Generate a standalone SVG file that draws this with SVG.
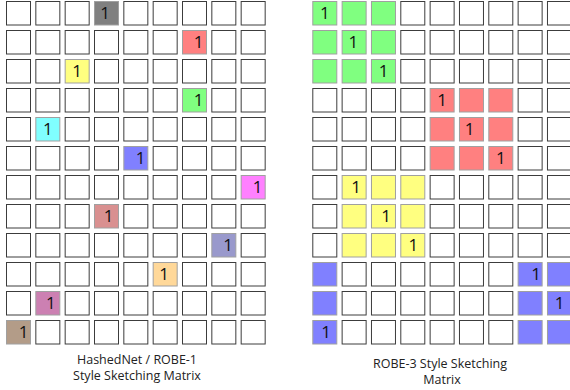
<svg xmlns="http://www.w3.org/2000/svg" xmlns:xlink="http://www.w3.org/1999/xlink" width="570" height="390" viewBox="0 0 570 390">
<style>
.w{fill:#fff;stroke:#3c3c3c;stroke-width:1}
.k{stroke:#a0a0a0;stroke-width:1}
.one{font-family:"Open Sans","DejaVu Sans",sans-serif;font-size:17px;fill:#111;text-anchor:middle}
.lab{font-family:"Open Sans","DejaVu Sans",sans-serif;font-size:12.5px;fill:#222;text-anchor:middle}
</style>
<defs><rect id="c" width="24" height="23.5"/></defs>
<rect width="570" height="390" fill="#fff"/>
<g id="left-grid">
<g id="left-empty">
<use href="#c" class="w" x="6.5" y="1.5"/><use href="#c" class="w" x="35.83" y="1.5"/><use href="#c" class="w" x="65.17" y="1.5"/><use href="#c" class="w" x="123.83" y="1.5"/><use href="#c" class="w" x="153.17" y="1.5"/><use href="#c" class="w" x="182.5" y="1.5"/><use href="#c" class="w" x="211.83" y="1.5"/><use href="#c" class="w" x="241.17" y="1.5"/>
<use href="#c" class="w" x="6.5" y="30.5"/><use href="#c" class="w" x="35.83" y="30.5"/><use href="#c" class="w" x="65.17" y="30.5"/><use href="#c" class="w" x="94.5" y="30.5"/><use href="#c" class="w" x="123.83" y="30.5"/><use href="#c" class="w" x="153.17" y="30.5"/><use href="#c" class="w" x="211.83" y="30.5"/><use href="#c" class="w" x="241.17" y="30.5"/>
<use href="#c" class="w" x="6.5" y="59.5"/><use href="#c" class="w" x="35.83" y="59.5"/><use href="#c" class="w" x="94.5" y="59.5"/><use href="#c" class="w" x="123.83" y="59.5"/><use href="#c" class="w" x="153.17" y="59.5"/><use href="#c" class="w" x="182.5" y="59.5"/><use href="#c" class="w" x="211.83" y="59.5"/><use href="#c" class="w" x="241.17" y="59.5"/>
<use href="#c" class="w" x="6.5" y="88.5"/><use href="#c" class="w" x="35.83" y="88.5"/><use href="#c" class="w" x="65.17" y="88.5"/><use href="#c" class="w" x="94.5" y="88.5"/><use href="#c" class="w" x="123.83" y="88.5"/><use href="#c" class="w" x="153.17" y="88.5"/><use href="#c" class="w" x="211.83" y="88.5"/><use href="#c" class="w" x="241.17" y="88.5"/>
<use href="#c" class="w" x="6.5" y="117.5"/><use href="#c" class="w" x="65.17" y="117.5"/><use href="#c" class="w" x="94.5" y="117.5"/><use href="#c" class="w" x="123.83" y="117.5"/><use href="#c" class="w" x="153.17" y="117.5"/><use href="#c" class="w" x="182.5" y="117.5"/><use href="#c" class="w" x="211.83" y="117.5"/><use href="#c" class="w" x="241.17" y="117.5"/>
<use href="#c" class="w" x="6.5" y="146.5"/><use href="#c" class="w" x="35.83" y="146.5"/><use href="#c" class="w" x="65.17" y="146.5"/><use href="#c" class="w" x="94.5" y="146.5"/><use href="#c" class="w" x="153.17" y="146.5"/><use href="#c" class="w" x="182.5" y="146.5"/><use href="#c" class="w" x="211.83" y="146.5"/><use href="#c" class="w" x="241.17" y="146.5"/>
<use href="#c" class="w" x="6.5" y="175.5"/><use href="#c" class="w" x="35.83" y="175.5"/><use href="#c" class="w" x="65.17" y="175.5"/><use href="#c" class="w" x="94.5" y="175.5"/><use href="#c" class="w" x="123.83" y="175.5"/><use href="#c" class="w" x="153.17" y="175.5"/><use href="#c" class="w" x="182.5" y="175.5"/><use href="#c" class="w" x="211.83" y="175.5"/>
<use href="#c" class="w" x="6.5" y="204.5"/><use href="#c" class="w" x="35.83" y="204.5"/><use href="#c" class="w" x="65.17" y="204.5"/><use href="#c" class="w" x="123.83" y="204.5"/><use href="#c" class="w" x="153.17" y="204.5"/><use href="#c" class="w" x="182.5" y="204.5"/><use href="#c" class="w" x="211.83" y="204.5"/><use href="#c" class="w" x="241.17" y="204.5"/>
<use href="#c" class="w" x="6.5" y="233.5"/><use href="#c" class="w" x="35.83" y="233.5"/><use href="#c" class="w" x="65.17" y="233.5"/><use href="#c" class="w" x="94.5" y="233.5"/><use href="#c" class="w" x="123.83" y="233.5"/><use href="#c" class="w" x="153.17" y="233.5"/><use href="#c" class="w" x="182.5" y="233.5"/><use href="#c" class="w" x="241.17" y="233.5"/>
<use href="#c" class="w" x="6.5" y="262.5"/><use href="#c" class="w" x="35.83" y="262.5"/><use href="#c" class="w" x="65.17" y="262.5"/><use href="#c" class="w" x="94.5" y="262.5"/><use href="#c" class="w" x="123.83" y="262.5"/><use href="#c" class="w" x="182.5" y="262.5"/><use href="#c" class="w" x="211.83" y="262.5"/><use href="#c" class="w" x="241.17" y="262.5"/>
<use href="#c" class="w" x="6.5" y="291.5"/><use href="#c" class="w" x="65.17" y="291.5"/><use href="#c" class="w" x="94.5" y="291.5"/><use href="#c" class="w" x="123.83" y="291.5"/><use href="#c" class="w" x="153.17" y="291.5"/><use href="#c" class="w" x="182.5" y="291.5"/><use href="#c" class="w" x="211.83" y="291.5"/><use href="#c" class="w" x="241.17" y="291.5"/>
<use href="#c" class="w" x="35.83" y="320.5"/><use href="#c" class="w" x="65.17" y="320.5"/><use href="#c" class="w" x="94.5" y="320.5"/><use href="#c" class="w" x="123.83" y="320.5"/><use href="#c" class="w" x="153.17" y="320.5"/><use href="#c" class="w" x="182.5" y="320.5"/><use href="#c" class="w" x="211.83" y="320.5"/><use href="#c" class="w" x="241.17" y="320.5"/>
</g>
<g id="l-r0"><use href="#c" class="k" x="94.5" y="1.5" fill="#808080"/><text class="one" x="105" y="19">1</text></g>
<g id="l-r1"><use href="#c" class="k" x="182.5" y="30.5" fill="#ff8080"/><text class="one" x="198.5" y="48">1</text></g>
<g id="l-r2"><use href="#c" class="k" x="65.17" y="59.5" fill="#ffff80"/><text class="one" x="77.2" y="77">1</text></g>
<g id="l-r3"><use href="#c" class="k" x="182.5" y="88.5" fill="#80ff80"/><text class="one" x="198.5" y="106">1</text></g>
<g id="l-r4"><use href="#c" class="k" x="35.83" y="117.5" fill="#80ffff"/><text class="one" x="47.8" y="135">1</text></g>
<g id="l-r5"><use href="#c" class="k" x="123.83" y="146.5" fill="#8080ff"/><text class="one" x="140.7" y="164">1</text></g>
<g id="l-r6"><use href="#c" class="k" x="241.17" y="175.5" fill="#ff80ff"/><text class="one" x="257.5" y="193">1</text></g>
<g id="l-r7"><use href="#c" class="k" x="94.5" y="204.5" fill="#d99090"/><text class="one" x="108.5" y="222">1</text></g>
<g id="l-r8"><use href="#c" class="k" x="211.83" y="233.5" fill="#9999cc"/><text class="one" x="228" y="251">1</text></g>
<g id="l-r9"><use href="#c" class="k" x="153.17" y="262.5" fill="#ffd899"/><text class="one" x="164" y="280">1</text></g>
<g id="l-r10"><use href="#c" class="k" x="35.83" y="291.5" fill="#cc80b2"/><text class="one" x="50.8" y="309">1</text></g>
<g id="l-r11"><use href="#c" class="k" x="6.5" y="320.5" fill="#b39c88"/><text class="one" x="23.5" y="338">1</text></g>
<g id="left-label"><text class="lab" x="137" y="364">HashedNet / ROBE-1</text><text class="lab" x="137" y="380">Style Sketching Matrix</text></g>
</g>
<g id="right-grid">
<g id="right-empty">
<use href="#c" class="w" x="400.8" y="1.5"/><use href="#c" class="w" x="430.13" y="1.5"/><use href="#c" class="w" x="459.47" y="1.5"/><use href="#c" class="w" x="488.8" y="1.5"/><use href="#c" class="w" x="518.13" y="1.5"/><use href="#c" class="w" x="547.47" y="1.5"/>
<use href="#c" class="w" x="400.8" y="30.5"/><use href="#c" class="w" x="430.13" y="30.5"/><use href="#c" class="w" x="459.47" y="30.5"/><use href="#c" class="w" x="488.8" y="30.5"/><use href="#c" class="w" x="518.13" y="30.5"/><use href="#c" class="w" x="547.47" y="30.5"/>
<use href="#c" class="w" x="400.8" y="59.5"/><use href="#c" class="w" x="430.13" y="59.5"/><use href="#c" class="w" x="459.47" y="59.5"/><use href="#c" class="w" x="488.8" y="59.5"/><use href="#c" class="w" x="518.13" y="59.5"/><use href="#c" class="w" x="547.47" y="59.5"/>
<use href="#c" class="w" x="312.8" y="88.5"/><use href="#c" class="w" x="342.13" y="88.5"/><use href="#c" class="w" x="371.47" y="88.5"/><use href="#c" class="w" x="400.8" y="88.5"/><use href="#c" class="w" x="518.13" y="88.5"/><use href="#c" class="w" x="547.47" y="88.5"/>
<use href="#c" class="w" x="312.8" y="117.5"/><use href="#c" class="w" x="342.13" y="117.5"/><use href="#c" class="w" x="371.47" y="117.5"/><use href="#c" class="w" x="400.8" y="117.5"/><use href="#c" class="w" x="518.13" y="117.5"/><use href="#c" class="w" x="547.47" y="117.5"/>
<use href="#c" class="w" x="312.8" y="146.5"/><use href="#c" class="w" x="342.13" y="146.5"/><use href="#c" class="w" x="371.47" y="146.5"/><use href="#c" class="w" x="400.8" y="146.5"/><use href="#c" class="w" x="518.13" y="146.5"/><use href="#c" class="w" x="547.47" y="146.5"/>
<use href="#c" class="w" x="312.8" y="175.5"/><use href="#c" class="w" x="430.13" y="175.5"/><use href="#c" class="w" x="459.47" y="175.5"/><use href="#c" class="w" x="488.8" y="175.5"/><use href="#c" class="w" x="518.13" y="175.5"/><use href="#c" class="w" x="547.47" y="175.5"/>
<use href="#c" class="w" x="312.8" y="204.5"/><use href="#c" class="w" x="430.13" y="204.5"/><use href="#c" class="w" x="459.47" y="204.5"/><use href="#c" class="w" x="488.8" y="204.5"/><use href="#c" class="w" x="518.13" y="204.5"/><use href="#c" class="w" x="547.47" y="204.5"/>
<use href="#c" class="w" x="312.8" y="233.5"/><use href="#c" class="w" x="430.13" y="233.5"/><use href="#c" class="w" x="459.47" y="233.5"/><use href="#c" class="w" x="488.8" y="233.5"/><use href="#c" class="w" x="518.13" y="233.5"/><use href="#c" class="w" x="547.47" y="233.5"/>
<use href="#c" class="w" x="342.13" y="262.5"/><use href="#c" class="w" x="371.47" y="262.5"/><use href="#c" class="w" x="400.8" y="262.5"/><use href="#c" class="w" x="430.13" y="262.5"/><use href="#c" class="w" x="459.47" y="262.5"/><use href="#c" class="w" x="488.8" y="262.5"/>
<use href="#c" class="w" x="342.13" y="291.5"/><use href="#c" class="w" x="371.47" y="291.5"/><use href="#c" class="w" x="400.8" y="291.5"/><use href="#c" class="w" x="430.13" y="291.5"/><use href="#c" class="w" x="459.47" y="291.5"/><use href="#c" class="w" x="488.8" y="291.5"/>
<use href="#c" class="w" x="342.13" y="320.5"/><use href="#c" class="w" x="371.47" y="320.5"/><use href="#c" class="w" x="400.8" y="320.5"/><use href="#c" class="w" x="430.13" y="320.5"/><use href="#c" class="w" x="459.47" y="320.5"/><use href="#c" class="w" x="488.8" y="320.5"/>
</g>
<g id="r-green" fill="#80ff80">
<use href="#c" class="k" x="312.8" y="1.5"/><use href="#c" class="k" x="342.13" y="1.5"/><use href="#c" class="k" x="371.47" y="1.5"/>
<use href="#c" class="k" x="312.8" y="30.5"/><use href="#c" class="k" x="342.13" y="30.5"/><use href="#c" class="k" x="371.47" y="30.5"/>
<use href="#c" class="k" x="312.8" y="59.5"/><use href="#c" class="k" x="342.13" y="59.5"/><use href="#c" class="k" x="371.47" y="59.5"/>
<text class="one" x="324.8" y="19">1</text><text class="one" x="353.3" y="48">1</text><text class="one" x="383.5" y="77">1</text>
</g>
<g id="r-red" fill="#ff8080">
<use href="#c" class="k" x="430.13" y="88.5"/><use href="#c" class="k" x="459.47" y="88.5"/><use href="#c" class="k" x="488.8" y="88.5"/>
<use href="#c" class="k" x="430.13" y="117.5"/><use href="#c" class="k" x="459.47" y="117.5"/><use href="#c" class="k" x="488.8" y="117.5"/>
<use href="#c" class="k" x="430.13" y="146.5"/><use href="#c" class="k" x="459.47" y="146.5"/><use href="#c" class="k" x="488.8" y="146.5"/>
<text class="one" x="442" y="106">1</text><text class="one" x="469.5" y="135">1</text><text class="one" x="500.8" y="164">1</text>
</g>
<g id="r-yellow" fill="#ffff80">
<use href="#c" class="k" x="342.13" y="175.5"/><use href="#c" class="k" x="371.47" y="175.5"/><use href="#c" class="k" x="400.8" y="175.5"/>
<use href="#c" class="k" x="342.13" y="204.5"/><use href="#c" class="k" x="371.47" y="204.5"/><use href="#c" class="k" x="400.8" y="204.5"/>
<use href="#c" class="k" x="342.13" y="233.5"/><use href="#c" class="k" x="371.47" y="233.5"/><use href="#c" class="k" x="400.8" y="233.5"/>
<text class="one" x="356" y="193">1</text><text class="one" x="386" y="222">1</text><text class="one" x="413.3" y="251">1</text>
</g>
<g id="r-blue" fill="#8080ff">
<use href="#c" class="k" x="312.8" y="262.5"/><use href="#c" class="k" x="518.13" y="262.5"/><use href="#c" class="k" x="547.47" y="262.5"/>
<use href="#c" class="k" x="312.8" y="291.5"/><use href="#c" class="k" x="518.13" y="291.5"/><use href="#c" class="k" x="547.47" y="291.5"/>
<use href="#c" class="k" x="312.8" y="320.5"/><use href="#c" class="k" x="518.13" y="320.5"/><use href="#c" class="k" x="547.47" y="320.5"/>
<text class="one" x="536" y="280">1</text><text class="one" x="559.5" y="309">1</text><text class="one" x="326" y="338">1</text>
</g>
<g id="right-label"><text class="lab" x="440" y="367.5">ROBE-3 Style Sketching</text><text class="lab" x="442" y="383.5">Matrix</text></g>
</g>
<g id="connectors"/>
</svg>
